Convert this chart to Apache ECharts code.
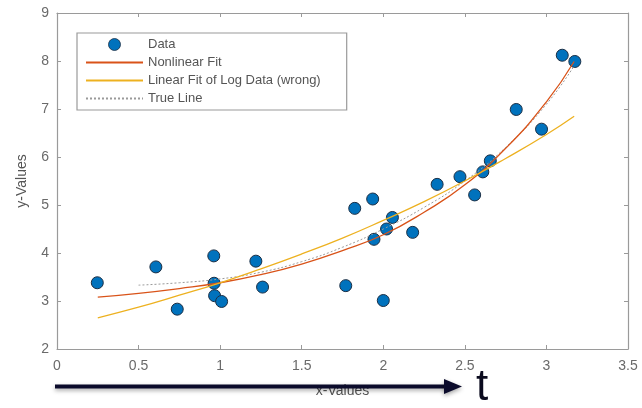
<!DOCTYPE html>
<html>
<head>
<meta charset="utf-8">
<script src="https://cdn.jsdelivr.net/npm/echarts@6.0.0/dist/echarts.min.js"></script>
<style>
html,body{margin:0;padding:0;background:#fff;}
#chart{width:642px;height:408px;}
</style>
</head>
<body>
<div id="chart"></div>
<script>
// Scatter data
var dataX = [0.247,0.606,0.737,0.961,0.963,0.966,1.009,1.219,1.26,1.77,1.825,1.935,1.943,2.0,2.02,2.056,2.18,2.33,2.47,2.56,2.61,2.656,2.815,2.97,3.097,3.174];
var dataY = [3.38,3.71,2.83,3.94,3.37,3.11,2.99,3.83,3.29,3.32,4.93,5.125,4.285,3.01,4.5,4.74,4.43,5.43,5.59,5.21,5.69,5.92,6.99,6.58,8.12,7.99];

// Fitted curves
var fitX = [0.25,0.5,0.75,1.0,1.25,1.5,1.75,2.0,2.25,2.5,2.75,3.0,3.17];
var nonlinY = [3.08,3.16,3.26,3.38,3.55,3.77,4.05,4.38,4.85,5.42,6.18,7.15,7.99];
var logY = [2.65,2.87,3.12,3.38,3.67,3.98,4.31,4.68,5.07,5.5,5.97,6.47,6.85];

var trueX = [0.5,0.75,1.0,1.25,1.5,1.75,2.0,2.25,2.5,2.75,3.0,3.17];
var trueY = [3.33,3.38,3.46,3.6,3.82,4.12,4.5,4.95,5.5,6.2,7.1,7.9];

var seriesNames = ['Data','Nonlinear Fit','Linear Fit of Log Data (wrong)','True Line'];
var xTicks = {min:0, max:3.5, interval:0.5};
var yTicks = {min:2, max:9, interval:1};

function zip(a,b){ return a.map(function(v,i){ return [v,b[i]]; }); }

var FONT = '"Liberation Sans", Arial, Helvetica, sans-serif';
var axisColor = '#9a9a9a';
var labelColor = '#6a6a6a';

var chart = echarts.init(document.getElementById('chart'), null, {renderer:'canvas'});

var option = {
  backgroundColor:'#fff',
  animation:false,
  textStyle:{fontFamily:FONT},
  grid:{left:57, right:14, top:13, bottom:59, containLabel:false},
  xAxis:[{
    type:'value', min:xTicks.min, max:xTicks.max, interval:xTicks.interval,
    position:'bottom',
    name:'x-Values', nameLocation:'middle', nameGap:35,
    nameTextStyle:{color:'#555', fontSize:14, fontFamily:FONT},
    axisLine:{show:true, onZero:false, lineStyle:{color:axisColor, width:1.2}},
    axisTick:{show:true, inside:true, length:4, lineStyle:{color:axisColor}},
    axisLabel:{color:labelColor, fontSize:14, margin:10, fontFamily:FONT},
    splitLine:{show:false}
  },{
    type:'value', min:xTicks.min, max:xTicks.max, interval:xTicks.interval,
    position:'top',
    axisLine:{show:true, onZero:false, lineStyle:{color:axisColor, width:1.2}},
    axisTick:{show:true, inside:true, length:4, lineStyle:{color:axisColor}},
    axisLabel:{show:false},
    splitLine:{show:false}
  }],
  yAxis:[{
    type:'value', min:yTicks.min, max:yTicks.max, interval:yTicks.interval,
    position:'left',
    name:'y-Values', nameLocation:'middle', nameGap:28, nameRotate:90,
    nameTextStyle:{color:'#555', fontSize:14, fontFamily:FONT},
    axisLine:{show:true, onZero:false, lineStyle:{color:axisColor, width:1.2}},
    axisTick:{show:true, inside:true, length:4, lineStyle:{color:axisColor}},
    axisLabel:{color:labelColor, fontSize:14, margin:8, fontFamily:FONT},
    splitLine:{show:false}
  },{
    type:'value', min:yTicks.min, max:yTicks.max, interval:yTicks.interval,
    position:'right',
    axisLine:{show:true, onZero:false, lineStyle:{color:axisColor, width:1.2}},
    axisTick:{show:true, inside:true, length:4, lineStyle:{color:axisColor}},
    axisLabel:{show:false},
    splitLine:{show:false}
  }],
  legend:{
    orient:'vertical', left:77, top:33,
    padding:[5,26,5,8], itemGap:5, itemWidth:57, itemHeight:12,
    backgroundColor:'#fff', borderColor:'#9a9a9a', borderWidth:1.2, borderRadius:0,
    textStyle:{color:'#555', fontSize:13, fontFamily:FONT},
    data:[
      {name:seriesNames[0], icon:'circle', itemStyle:{borderWidth:0.8}},
      {name:seriesNames[1], itemStyle:{opacity:0}},
      {name:seriesNames[2], itemStyle:{opacity:0}},
      {name:seriesNames[3], itemStyle:{opacity:0}}
    ]
  },
  series:[{
    name:seriesNames[0], type:'scatter', xAxisIndex:0, yAxisIndex:0,
    data:zip(dataX,dataY), symbol:'circle', symbolSize:12, z:2,
    itemStyle:{color:'#0072BD', borderColor:'#1b2f45', borderWidth:1, opacity:1}
  },{
    name:seriesNames[1], type:'line', xAxisIndex:0, yAxisIndex:0,
    data:zip(fitX,nonlinY), smooth:true, symbol:'none', z:4,
    lineStyle:{color:'#D95319', width:1.3},
    itemStyle:{color:'#D95319'}
  },{
    name:seriesNames[2], type:'line', xAxisIndex:0, yAxisIndex:0,
    data:zip(fitX,logY), smooth:true, symbol:'none', z:4,
    lineStyle:{color:'#EDB120', width:1.3},
    itemStyle:{color:'#EDB120'}
  },{
    name:seriesNames[3], type:'line', xAxisIndex:0, yAxisIndex:0,
    data:zip(trueX,trueY), smooth:true, symbol:'none', z:3,
    lineStyle:{color:'#9a9a9a', width:1, type:[2,2]},
    itemStyle:{color:'#9a9a9a'}
  }],
  graphic:[{
    type:'line', z:100,
    shape:{x1:55, y1:386.5, x2:447, y2:386.5},
    style:{stroke:'#0b0b2b', lineWidth:4, shadowBlur:4, shadowColor:'rgba(0,0,0,0.35)', shadowOffsetY:2}
  },{
    type:'polygon', z:100,
    shape:{points:[[444,379],[462,386.5],[444,394]]},
    style:{fill:'#0b0b2b', shadowBlur:4, shadowColor:'rgba(0,0,0,0.35)', shadowOffsetY:2}
  },{
    type:'text', z:100, left:476, top:366,
    style:{text:'t', fill:'#0b0b1e', font:'44px "Liberation Sans", Arial, sans-serif',
      shadowBlur:4, shadowColor:'rgba(0,0,0,0.35)', shadowOffsetY:2}
  }]
};
chart.setOption(option);
</script>
</body>
</html>
